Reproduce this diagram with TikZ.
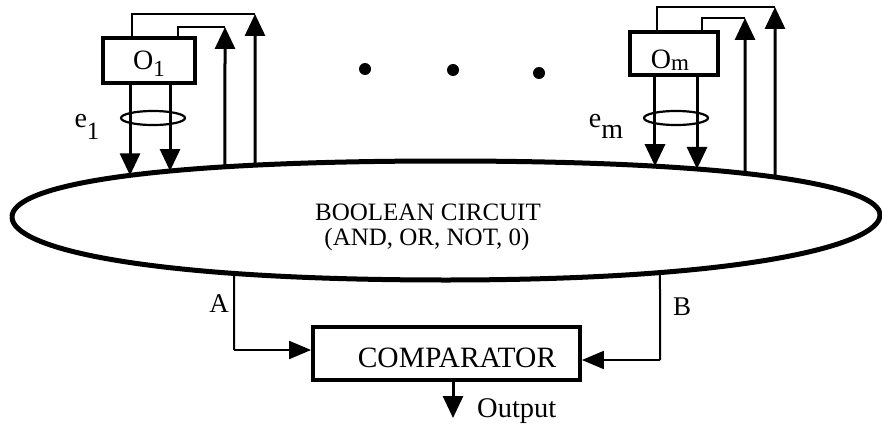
\documentclass[tikz,border=0pt]{standalone}
\usepackage{fontspec}
\setmainfont{Liberation Serif}
\usetikzlibrary{arrows.meta,intersections,shapes.geometric}
\begin{document}
\begin{tikzpicture}[x=1pt,y=-1pt,
  box/.style={draw,line width=3.8pt,inner sep=0pt},
  lbl/.style={inner sep=0pt,anchor=base,font=\fontsize{27}{30}\selectfont},
  sig/.style={line width=2.8pt},
  arr/.style={line width=3pt,-{Triangle[width=20pt,length=22pt]}},
  thinarr/.style={line width=2pt,-{Triangle[width=18pt,length=22pt]}},
  bus/.style={line width=2pt},
  dot/.style={circle,fill,inner sep=0pt,minimum size=12pt}
]
\useasboundingbox (0,0) rectangle (882,425);
% boolean circuit outline
\draw[line width=5pt,name path=ell] (12,217) .. controls (12,186) and (142,161) .. (446,161)
  .. controls (745,161) and (880,186) .. (880,215)
  .. controls (880,245) and (745,280) .. (446,280)
  .. controls (142,280) and (12,248) .. (12,217);
\foreach \n/\x in {d1/130,d2/170,u1/225,u2/255,d3/655,d4/697,u3/745,u4/775}{
  \path[name path=vv] (\x,0) -- (\x,221);
  \path[name intersections={of=ell and vv,by=\n}];
}
\foreach \n/\x in {pa/234,pb/660}{
  \path[name path=vv] (\x,221) -- (\x,320);
  \path[name intersections={of=ell and vv,by=\n}];
}
\node[lbl,font=\fontsize{25}{28}\selectfont] (bc1) at (428,220) {BOOLEAN CIRCUIT};
\node[lbl,font=\fontsize{25}{28}\selectfont] (bc2) at (427,245) {(AND, OR, NOT, 0)};

% oracle boxes
\node[box,minimum width=92pt,minimum height=45pt] (o1) at (149,60.5) {};
\node[lbl,font=\fontsize{28}{30}\selectfont] (o1t) at (149,70) {O\raisebox{-7pt}{\fontsize{23}{23}\selectfont 1}};
\node[box,minimum width=88pt,minimum height=43pt] (om) at (674,53.5) {};
\node[lbl,font=\fontsize{28}{30}\selectfont] (omt) at (670,69) {O\raisebox{-2pt}{\fontsize{23}{23}\selectfont m}};

% corners
\coordinate (c1a) at (255,14);
\coordinate (c1b) at (225,27);
\coordinate (cma) at (775,7);
\coordinate (cmb) at (745,18);

% O1 connections
\draw[arr] (o1.south -| d1) -- (d1);
\draw[arr] (o1.south -| d2) -- (d2);
\draw[arr] (u1) -- (c1b);
\draw[arr] (u2) -- (c1a);
\draw[sig] (c1a) -| (o1.north -| 132,0);
\draw[sig] (c1b) -| (o1.north -| 178,0);
\node[draw,ellipse,line width=2.2pt,minimum width=64pt,minimum height=14pt,inner sep=0pt] (b1) at (153,118) {};
\node[lbl,font=\fontsize{28}{30}\selectfont] (e1) at (87,127) {e\raisebox{-13pt}{\fontsize{25}{25}\selectfont 1}};

% Om connections
\draw[arr] (om.south -| d3) -- (d3);
\draw[arr] (om.south -| d4) -- (d4);
\draw[arr] (u3) -- (cmb);
\draw[arr] (u4) -- (cma);
\draw[sig] (cma) -| (om.north -| 657,0);
\draw[sig] (cmb) -| (om.north -| 702,0);
\node[draw,ellipse,line width=2.2pt,minimum width=64pt,minimum height=14pt,inner sep=0pt] (bm) at (676,118) {};
\node[lbl,font=\fontsize{28}{30}\selectfont] (em) at (606,128) {e\raisebox{-10pt}{m}};

% dots
\node[dot] (dt1) at (365,69) {};
\node[dot] (dt2) at (453,70) {};
\node[dot] (dt3) at (539,73) {};

% comparator
\node[box,minimum width=267pt,minimum height=53pt] (cmp) at (446.5,353.5) {};
\node[lbl,font=\fontsize{29.5}{32}\selectfont] (cmpt) at (457,367) {COMPARATOR};
\coordinate (ka) at (234,350);
\coordinate (kb) at (660,360);
\draw[bus] (pa) -- (ka);
\draw[thinarr] (ka) -- (cmp.west |- ka);
\draw[bus] (pb) -- (kb);
\draw[thinarr] (kb) -- (cmp.east |- kb);
\node[lbl] (la) at (219,312) {A};
\node[lbl] (lb) at (682,315) {B};

\coordinate (outend) at (453,418);
\draw[arr] (cmp.south -| outend) -- (outend);
\node[lbl,anchor=base west,font=\fontsize{28.5}{30}\selectfont] (outl) at (477,417) {Output};
\end{tikzpicture}
\end{document}
